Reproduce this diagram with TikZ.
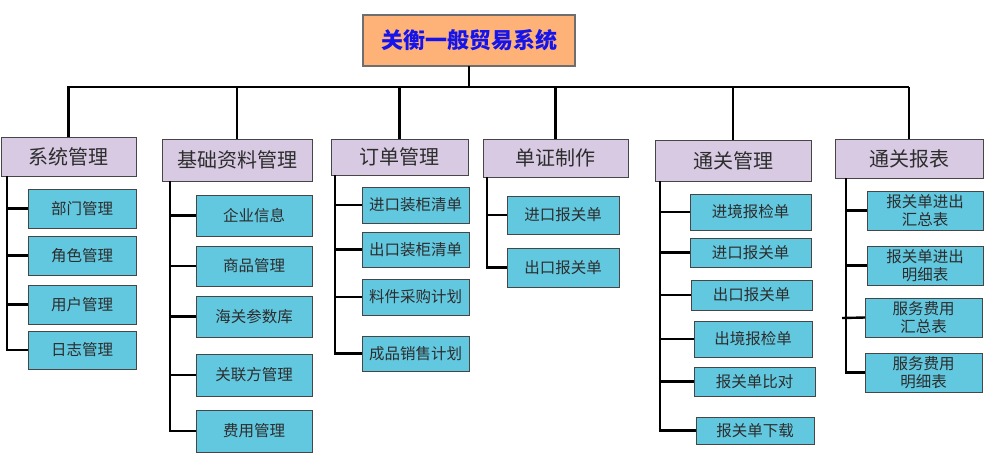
\documentclass[tikz,border=0pt]{standalone}
\usepackage{fontspec}
\newfontfamily\cjk{Noto Sans CJK SC}
\definecolor{topfill}{RGB}{255,178,120}
\definecolor{topborder}{RGB}{110,110,110}
\definecolor{titleblue}{RGB}{20,20,235}
\definecolor{lvfill}{RGB}{215,202,226}
\definecolor{chfill}{RGB}{98,200,224}
\definecolor{boxborder}{RGB}{70,70,70}
\definecolor{txt}{RGB}{45,45,45}
\tikzset{
  every node/.style={inner sep=0pt, outer sep=0pt},
  topbox/.style={draw=topborder, line width=1.2pt, fill=topfill, text=titleblue, font=\cjk\bfseries\fontsize{22}{25}\selectfont},
  lvbox/.style={draw=boxborder, line width=1pt, fill=lvfill, text=txt, font=\cjk\fontsize{20}{23}\selectfont},
  chbox/.style={draw=boxborder, line width=1pt, fill=chfill, text=txt, align=center, font=\cjk\fontsize{15.5}{18}\selectfont},
  conn/.style={draw=black, line width=2.4pt},
}
\newcommand\bx[6]{\node[#1, minimum width=#4, minimum height=#5] (#2) at (#3) {#6};}
\begin{document}
\begin{tikzpicture}[x=1pt,y=-1pt]
\useasboundingbox (0,0) rectangle (995,466);
% top
\bx{topbox}{top}{469,40.5}{212pt}{51pt}{关衡一般贸易系统}
% level 1
\bx{lvbox}{sys}{68.5,156.5}{135pt}{39pt}{系统管理}
\bx{lvbox}{jc}{237,160}{150pt}{42pt}{基础资料管理}
\bx{lvbox}{dd}{399.5,157}{137pt}{36pt}{订单管理}
\bx{lvbox}{dz}{555.5,158}{145pt}{38pt}{单证制作}
\bx{lvbox}{tg}{733,160.5}{156pt}{41pt}{通关管理}
\bx{lvbox}{tb}{909,158.5}{148pt}{39pt}{通关报表}
% children of sys
\bx{chbox}{a1}{82,208.5}{108pt}{39pt}{部门管理}
\bx{chbox}{a2}{82,255.5}{108pt}{39pt}{角色管理}
\bx{chbox}{a3}{82,304.5}{108pt}{39pt}{用户管理}
\bx{chbox}{a4}{82,350}{108pt}{38pt}{日志管理}
% children of jc
\bx{chbox}{b1}{254,215.5}{116pt}{41pt}{企业信息}
\bx{chbox}{b2}{254,266}{116pt}{40pt}{商品管理}
\bx{chbox}{b3}{254,316.5}{116pt}{41pt}{海关参数库}
\bx{chbox}{b4}{254,375}{116pt}{42pt}{关联方管理}
\bx{chbox}{b5}{254,431}{116pt}{42pt}{费用管理}
% children of dd
\bx{chbox}{c1}{415.5,205}{107pt}{36pt}{进口装柜清单}
\bx{chbox}{c2}{415.5,249.5}{107pt}{35pt}{出口装柜清单}
\bx{chbox}{c3}{415.5,297}{107pt}{36pt}{料件采购计划}
\bx{chbox}{c4}{415.5,353.5}{107pt}{35pt}{成品销售计划}
% children of dz
\bx{chbox}{d1}{563,215}{112pt}{38pt}{进口报关单}
\bx{chbox}{d2}{563,267.5}{112pt}{39pt}{出口报关单}
% children of tg
\bx{chbox}{e1}{750.5,212}{121pt}{36pt}{进境报检单}
\bx{chbox}{e2}{750.5,252.5}{121pt}{29pt}{进口报关单}
\bx{chbox}{e3}{751.5,295}{121pt}{30pt}{出口报关单}
\bx{chbox}{e4}{753,339}{118pt}{36pt}{出境报检单}
\bx{chbox}{e5}{754.5,381.5}{121pt}{29pt}{报关单比对}
\bx{chbox}{e6}{755,430.5}{118pt}{27pt}{报关单下载}
% children of tb
\bx{chbox}{f1}{925,210.5}{116pt}{39pt}{报关单进出\\汇总表}
\bx{chbox}{f2}{925,265.5}{116pt}{39pt}{报关单进出\\明细表}
\bx{chbox}{f3}{923.5,317.5}{117pt}{39pt}{服务费用\\汇总表}
\bx{chbox}{f4}{923.5,372.5}{117pt}{39pt}{服务费用\\明细表}
% bus
\coordinate (busL) at (67,87);
\coordinate (busR) at (909,87);
\draw[conn] (busL) -- (busR);
\draw[conn] (top.south) -- (top.south |- busL);
\foreach \n in {sys,jc,dd,dz,tg,tb} \draw[conn] (\n.north) -- (\n.north |- busL);
% spines
\coordinate (s1) at (7,176);
\coordinate (s2) at (170,181);
\coordinate (s3) at (335,175);
\coordinate (s4) at (487,177);
\coordinate (s5) at (660,181);
\coordinate (s6) at (846,178);
\coordinate (nub) at (842,318);
\foreach \c in {a1,a2,a3,a4} \draw[conn] (s1) |- (\c.west);
\foreach \c in {b1,b2,b3,b4,b5} \draw[conn] (s2) |- (\c.west);
\foreach \c in {c1,c2,c3,c4} \draw[conn] (s3) |- (\c.west);
\foreach \c in {d1,d2} \draw[conn] (s4) |- (\c.west);
\foreach \c in {e1,e2,e3,e4,e5,e6} \draw[conn] (s5) |- (\c.west);
\foreach \c in {f1,f2,f4} \draw[conn] (s6) |- (\c.west);
\draw[conn] (nub) -- (f3.west);
\end{tikzpicture}
\end{document}
